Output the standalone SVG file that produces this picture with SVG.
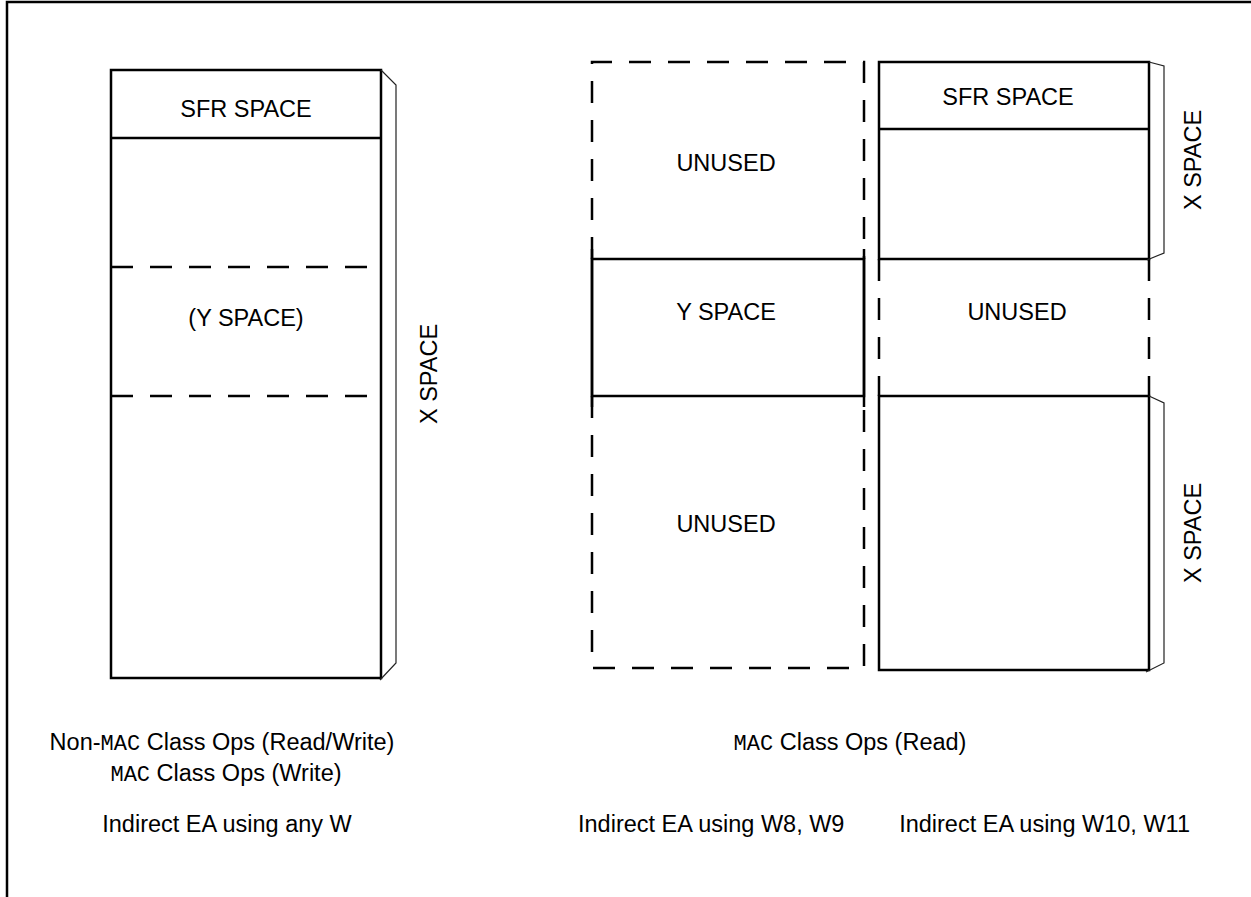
<svg xmlns="http://www.w3.org/2000/svg" width="1251" height="897" viewBox="0 0 1251 897">
<style>
.t{font-family:"Liberation Sans",Arial,Helvetica,sans-serif;font-size:23.5px;fill:#000}
.m{font-family:"Liberation Mono","Courier New",monospace;font-size:22px}
.s{fill:none;stroke:#000;stroke-width:2.5}
.d{fill:none;stroke:#000;stroke-width:2.5;stroke-dasharray:22 17}
.b{fill:none;stroke:#222;stroke-width:1.2}
</style>
<rect width="1251" height="897" fill="#fff"/>
<path id="frame" d="M7,897 V2 H1251" fill="none" stroke="#000" stroke-width="2.5"/>

<g id="left-map">
  <rect class="s" x="111" y="70" width="270" height="608"/>
  <line class="s" x1="111" y1="138" x2="381" y2="138"/>
  <line class="d" x1="111" y1="267" x2="381" y2="267"/>
  <line class="d" x1="111" y1="396" x2="381" y2="396"/>
  <path class="b" d="M381,70 L396,85 V663 L380,680"/>
  <text class="t" x="246" y="117" text-anchor="middle">SFR SPACE</text>
  <text class="t" x="246" y="326" text-anchor="middle">(Y SPACE)</text>
  <text class="t" transform="translate(437,374) rotate(-90)" text-anchor="middle">X SPACE</text>
</g>

<g id="ws-map">
  <path class="d" d="M592,259 V62 H864 V259"/>
  <path class="d" d="M592,396 V668 H864 V396"/>
  <rect class="s" x="592" y="259" width="272" height="137"/>
  <line class="s" x1="592" y1="249" x2="592" y2="407"/>
  <line class="s" x1="864" y1="249" x2="864" y2="407"/>
  <text class="t" x="726" y="171" text-anchor="middle">UNUSED</text>
  <text class="t" x="726" y="320" text-anchor="middle">Y SPACE</text>
  <text class="t" x="726" y="532" text-anchor="middle">UNUSED</text>
</g>

<g id="wx-map">
  <rect class="s" x="879" y="62" width="270" height="197"/>
  <line class="s" x1="879" y1="129" x2="1149" y2="129"/>
  <line class="d" x1="879" y1="259" x2="879" y2="396"/>
  <line class="d" x1="1149" y1="259" x2="1149" y2="396"/>
  <rect class="s" x="879" y="396" width="270" height="274"/>
  <path class="b" d="M1149,62 L1164,66 V253 L1147,260"/>
  <path class="b" d="M1149,396 L1164,403 V663 L1146,672"/>
  <text class="t" x="1008" y="105" text-anchor="middle">SFR SPACE</text>
  <text class="t" x="1017" y="320" text-anchor="middle">UNUSED</text>
  <text class="t" transform="translate(1201,160) rotate(-90)" text-anchor="middle">X SPACE</text>
  <text class="t" transform="translate(1201,533) rotate(-90)" text-anchor="middle">X SPACE</text>
</g>

<g id="captions">
  <text class="t" x="222" y="750" text-anchor="middle">Non-<tspan class="m">MAC</tspan> Class Ops (Read/Write)</text>
  <text class="t" x="226" y="781" text-anchor="middle"><tspan class="m">MAC</tspan> Class Ops (Write)</text>
  <text class="t" x="227" y="832" text-anchor="middle">Indirect EA using any W</text>
  <text class="t" x="850" y="750" text-anchor="middle"><tspan class="m">MAC</tspan> Class Ops (Read)</text>
  <text class="t" x="578" y="832">Indirect EA using W8, W9</text>
  <text class="t" x="1190" y="832" text-anchor="end">Indirect EA using W10, W11</text>
</g>
</svg>
